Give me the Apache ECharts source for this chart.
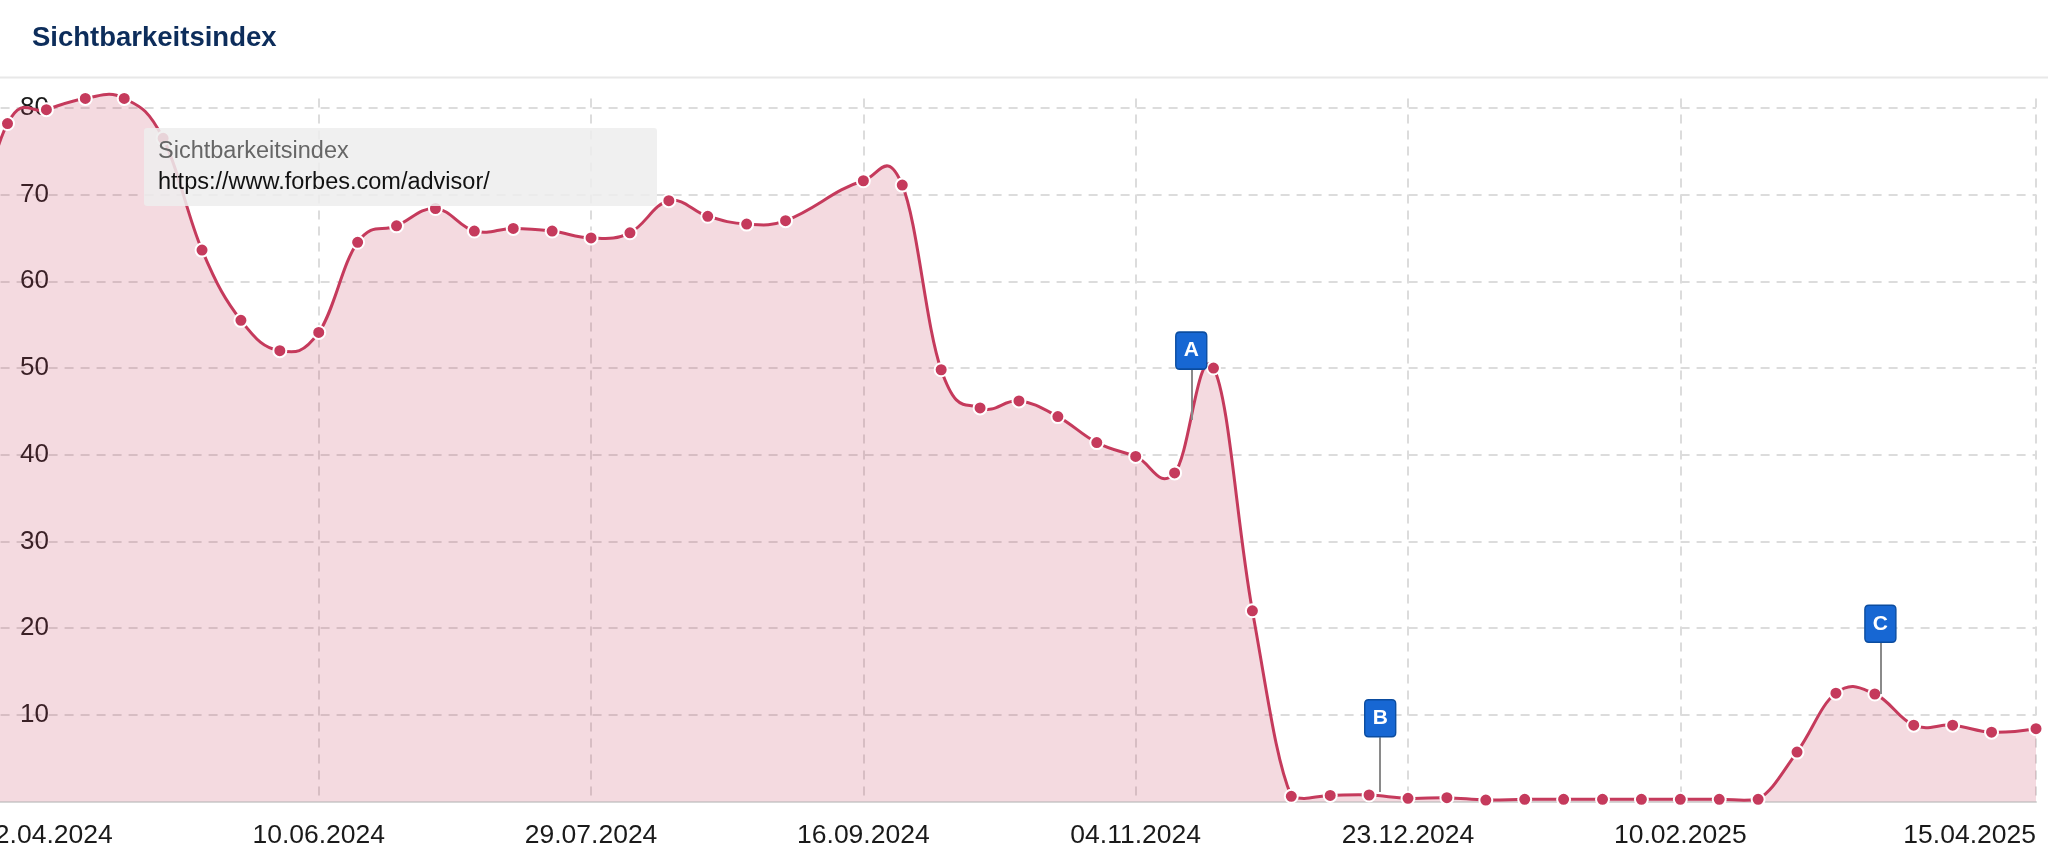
<!DOCTYPE html>
<html>
<head>
<meta charset="utf-8">
<script src="https://cdn.jsdelivr.net/npm/echarts@6/dist/echarts.min.js"></script>
<style>
html,body{margin:0;padding:0;background:#fff;}
#c{width:2048px;height:867px;}
</style>
</head>
<body>
<div id="c"></div>
<script>
// ---- data ----
const chartTitle = 'Sichtbarkeitsindex';
const seriesName = 'Sichtbarkeitsindex';
const seriesUrl = 'https://www.forbes.com/advisor/';

const dates = [
  '2024-04-08','2024-04-15','2024-04-22','2024-04-29','2024-05-06','2024-05-13','2024-05-20','2024-05-27',
  '2024-06-03','2024-06-10','2024-06-17','2024-06-24','2024-07-01','2024-07-08','2024-07-15','2024-07-22',
  '2024-07-29','2024-08-05','2024-08-12','2024-08-19','2024-08-26','2024-09-02','2024-09-16','2024-09-23',
  '2024-09-30','2024-10-07','2024-10-14','2024-10-21','2024-10-28','2024-11-04','2024-11-11','2024-11-18',
  '2024-11-25','2024-12-02','2024-12-09','2024-12-16','2024-12-23','2024-12-30','2025-01-06','2025-01-13',
  '2025-01-20','2025-01-27','2025-02-03','2025-02-10','2025-02-17','2025-02-24','2025-03-03','2025-03-10',
  '2025-03-17','2025-03-24','2025-03-31','2025-04-07','2025-04-15'
];
const values = [
  63.0, 78.2, 79.8, 81.1, 81.1, 76.5, 63.6, 55.5,
  52.0, 54.1, 64.5, 66.4, 68.4, 65.8, 66.1, 65.8,
  65.0, 65.6, 69.3, 67.5, 66.6, 67.0, 71.6, 71.1,
  49.8, 45.4, 46.2, 44.4, 41.4, 39.8, 37.9, 50.0,
  22.0, 0.6, 0.7, 0.75, 0.37, 0.44, 0.17, 0.25,
  0.25, 0.25, 0.25, 0.25, 0.25, 0.25, 5.7, 12.5,
  12.4, 8.8, 8.8, 8.0, 8.4
];

const xLabelDates = ['2024-04-22','2024-06-10','2024-07-29','2024-09-16','2024-11-04','2024-12-23','2025-02-10','2025-04-15'];
const xGridDates  = ['2024-06-10','2024-07-29','2024-09-16','2024-11-04','2024-12-23','2025-02-10','2025-04-15'];
const yMin = 0;
const yMax = 81.1;
const yInterval = 10;

const flagLabels = ['A','B','C'];
const flagDates = ['2024-11-14','2024-12-18','2025-03-18'];
const flagBoxValues = [52.0, 9.6, 20.5];
const stemTopValues = [50.0, 7.4, 18.3];
const stemBottomValues = [44.0, 1.1, 12.4];

// ---- helpers ----
function toTime(s){ const p = s.split('-').map(Number); return new Date(p[0], p[1]-1, p[2]).getTime(); }
function fmtDate(v){
  const d = new Date(v);
  return String(d.getDate()).padStart(2,'0') + '.' + String(d.getMonth()+1).padStart(2,'0') + '.' + d.getFullYear();
}
const seriesData = dates.map((d, i) => [toTime(d), values[i]]);

// spline through pixel points (control arms 40% of the x step, tangent from neighbours),
// control points kept above the baseline so the curve never dips under 0
function splinePath(p, baseY){
  const s = 1.5, den = 2.5, n = p.length;
  const lc = [], rc = [];
  for (let i = 0; i < n; i++){
    const x = p[i][0], y = p[i][1];
    if (i > 0 && i < n - 1){
      const lx = p[i-1][0], ly = p[i-1][1], nx = p[i+1][0], ny = p[i+1][1];
      const lcx = (s*x + lx)/den, rcx = (s*x + nx)/den;
      let lcy = (s*y + ly)/den, rcy = (s*y + ny)/den;
      const corr = rcx !== lcx ? ((rcy - lcy)*(rcx - x))/(rcx - lcx) + y - rcy : 0;
      lcy = Math.min(lcy + corr, baseY);
      rcy = Math.min(rcy + corr, baseY);
      lc[i] = [lcx, lcy]; rc[i] = [rcx, rcy];
    } else {
      lc[i] = [x, y]; rc[i] = [x, y];
    }
  }
  let d = 'M' + p[0][0] + ' ' + p[0][1];
  for (let i = 1; i < n; i++){
    d += ' C' + rc[i-1][0] + ' ' + rc[i-1][1] + ' ' + lc[i][0] + ' ' + lc[i][1] + ' ' + p[i][0] + ' ' + p[i][1];
  }
  return d;
}

const FONT = '"Liberation Sans", Arial, Helvetica, sans-serif';
const LINE = '#c53a5c';
const AREA = 'rgba(197,58,92,0.19)';
const GRID = '#dcdcdc';
const FLAG_PATH = 'path://M4,0 L27,0 Q31,0 31,4 L31,33 Q31,37 27,37 L4,37 Q0,37 0,33 L0,4 Q0,0 4,0 Z';

function renderCurve(params, api){
  if (params.dataIndex !== 0) return null;
  const pts = seriesData.map(d => api.coord(d));
  const baseY = api.coord([seriesData[0][0], yMin])[1];
  const path = splinePath(pts, baseY);
  const first = pts[0], last = pts[pts.length - 1];
  return {
    type: 'group',
    children: [
      {type: 'path', shape: {pathData: path + ' L' + last[0] + ' ' + baseY + ' L' + first[0] + ' ' + baseY + ' Z'},
       style: {fill: AREA, stroke: 'none'}},
      {type: 'path', shape: {pathData: path},
       style: {fill: 'none', stroke: LINE, lineWidth: 3, lineJoin: 'round'}}
    ]
  };
}

const chart = echarts.init(document.getElementById('c'), null, {renderer:'canvas'});
chart.setOption({
  animation: false,
  backgroundColor: '#ffffff',
  title: {
    text: chartTitle, left: 32, top: 24, padding: 0,
    textStyle: {fontSize: 27.5, fontWeight: 'bold', color: '#0d2d5b', fontFamily: FONT}
  },
  legend: {show: false},
  tooltip: {show: false},
  grid: {left: -31.4, right: 12, top: 98.4, bottom: 65.5, containLabel: false, outerBoundsMode: 'none'},
  xAxis: {
    type: 'value',
    min: toTime(dates[0]),
    max: toTime(dates[dates.length-1]),
    axisLine: {show: true, onZero: false, lineStyle: {color: '#d6d6d6', width: 2}},
    axisTick: {show: false, customValues: xGridDates.map(toTime)},
    axisLabel: {
      customValues: xLabelDates.map(toTime),
      formatter: function(v){ return fmtDate(v); },
      fontSize: 26.5, color: '#1a1a1a', fontFamily: FONT, margin: 21,
      alignMaxLabel: 'right', showMinLabel: true, showMaxLabel: true, hideOverlap: false
    },
    splitLine: {show: true, showMinLine: true, showMaxLine: true, lineStyle: {color: GRID, width: 2, type: [9, 7]}}
  },
  yAxis: {
    type: 'value',
    min: yMin, max: yMax, interval: yInterval,
    axisLine: {show: false},
    axisTick: {show: false},
    axisLabel: {
      inside: true, margin: 51.4, fontSize: 26, color: '#1a1a1a', fontFamily: FONT,
      showMinLabel: false, showMaxLabel: false
    },
    splitLine: {show: true, showMinLine: false, showMaxLine: false, lineStyle: {color: GRID, width: 2, type: [9, 7]}}
  },
  series: [
    {
      type: 'custom',
      name: seriesName,
      data: seriesData,
      encode: {x: 0, y: 1},
      renderItem: renderCurve,
      silent: true,
      clip: false
    },
    {
      type: 'scatter',
      name: seriesName,
      data: seriesData,
      symbol: 'circle',
      symbolSize: 13,
      itemStyle: {color: LINE, borderColor: '#ffffff', borderWidth: 2, opacity: 1},
      markLine: {
        silent: true,
        symbol: ['none','none'],
        label: {show: false},
        lineStyle: {color: '#8a8a8a', width: 2, type: 'solid'},
        data: flagLabels.map((l, i) => [
          {coord: [toTime(flagDates[i]), stemTopValues[i]]},
          {coord: [toTime(flagDates[i]), stemBottomValues[i]]}
        ])
      },
      markPoint: {
        silent: true,
        symbol: FLAG_PATH,
        symbolSize: [31, 37],
        itemStyle: {color: '#1767d3', borderColor: '#0b4c9f', borderWidth: 1.5},
        label: {show: true, formatter: '{b}', color: '#ffffff', fontWeight: 'bold', fontSize: 21, fontFamily: FONT},
        data: flagLabels.map((l, i) => ({name: l, coord: [toTime(flagDates[i]), flagBoxValues[i]]}))
      }
    }
  ],
  graphic: [
    {type: 'line', z: 100, shape: {x1: 0, y1: 77.5, x2: 2048, y2: 77.5}, style: {stroke: '#e8e8e8', lineWidth: 2}},
    {type: 'rect', z: 100, shape: {x: 144, y: 128, width: 513, height: 78, r: 3}, style: {fill: 'rgba(238,238,238,0.86)'}},
    {type: 'text', z: 101, x: 158, y: 151.7, style: {text: seriesName, font: '23.5px ' + FONT, fill: '#666666', verticalAlign: 'middle'}},
    {type: 'text', z: 101, x: 158, y: 182.5, style: {text: seriesUrl, font: '23.5px ' + FONT, fill: '#111111', verticalAlign: 'middle'}}
  ]
});
</script>
</body>
</html>
